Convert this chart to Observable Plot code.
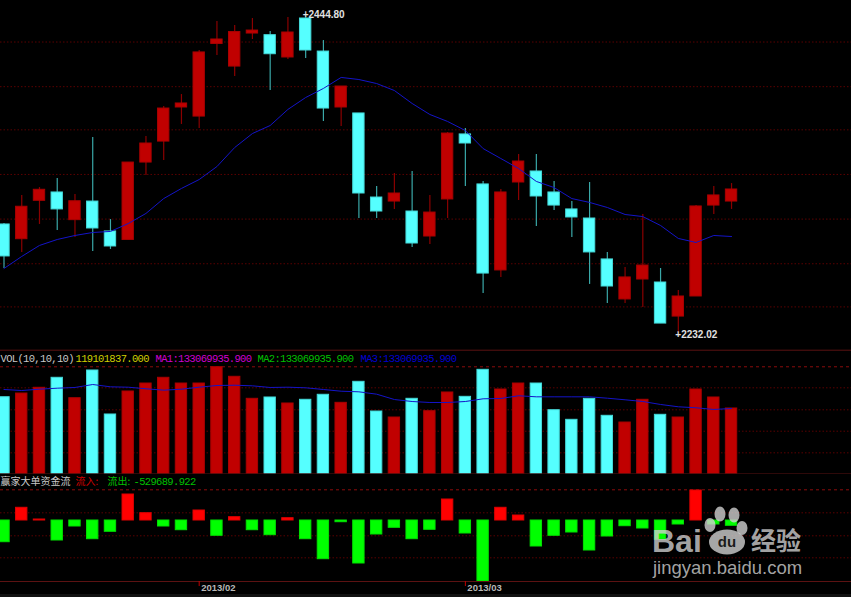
<!DOCTYPE html>
<html><head><meta charset="utf-8">
<script src="https://cdn.jsdelivr.net/npm/d3@7"></script>
<script src="https://cdn.jsdelivr.net/npm/@observablehq/plot@0.6"></script>
<style>
html,body{margin:0;padding:0;background:#000;width:851px;height:597px;overflow:hidden}
#wrap{position:relative;width:851px;height:597px}
svg{display:block}
#wm{position:absolute;left:0;top:0;pointer-events:none}
#strip{position:absolute;left:0;top:594px;width:851px;height:3px;background:#121212}
</style></head><body><div id="wrap"></div>
<script>
const priceOpen=[2305.4,2295.5,2321.3,2326.9,2308.3,2320.8,2300.7,2295.0,2347.0,2361.1,2384.0,2377.9,2426.7,2411.5,2433.7,2432.6,2417.6,2443.8,2421.6,2384.0,2380.0,2323.5,2320.8,2314.1,2297.3,2322.2,2365.9,2332.3,2274.5,2333.6,2341.0,2326.9,2315.5,2309.4,2281.9,2255.0,2268.4,2266.4,2243.5,2257.0,2318.1,2320.8];
const priceClose=[2283.9,2317.3,2328.7,2315.5,2321.0,2302.7,2290.6,2347.0,2359.8,2383.3,2386.7,2421.0,2429.7,2434.7,2435.7,2419.8,2434.4,2422.3,2383.3,2398.1,2326.2,2314.1,2326.2,2292.6,2313.4,2366.5,2359.8,2272.4,2326.9,2347.7,2324.2,2318.1,2310.1,2286.6,2263.7,2269.8,2277.8,2238.8,2257.0,2317.5,2324.9,2328.9];
const priceHigh=[2306.0,2324.9,2330.2,2336.3,2325.5,2363.8,2308.7,2347.0,2364.5,2384.7,2392.7,2422.3,2441.8,2439.1,2443.8,2435.1,2444.5,2444.8,2429.0,2398.1,2380.0,2330.9,2339.6,2341.0,2324.9,2367.2,2369.9,2334.3,2328.9,2352.4,2352.4,2334.3,2320.8,2333.6,2286.6,2276.5,2312.1,2275.8,2261.0,2318.2,2330.9,2332.9];
const priceLow=[2275.8,2286.6,2305.4,2301.3,2296.6,2287.2,2288.6,2295.0,2338.3,2348.4,2372.6,2369.9,2418.9,2404.8,2429.7,2395.4,2416.3,2416.9,2374.6,2371.2,2309.4,2309.4,2315.5,2289.9,2291.9,2309.4,2330.9,2259.0,2269.8,2321.5,2304.0,2314.8,2296.6,2265.1,2252.3,2252.3,2249.6,2238.8,2232.02,2257.0,2312.1,2315.5];
const priceMA=[2275.8,2283.9,2291.3,2295.3,2298.0,2300.0,2300.7,2306.0,2312.8,2322.8,2329.6,2335.6,2344.3,2357.1,2366.5,2371.9,2382.7,2390.7,2396.8,2404.2,2402.8,2400.1,2395.4,2386.7,2379.3,2374.6,2368.5,2356.4,2349.7,2343.0,2334.3,2330.2,2322.8,2320.2,2316.8,2312.1,2310.7,2304.7,2296.0,2293.3,2298.0,2297.3];
const volume=[139.6,146.3,156.7,174.9,137.8,188.2,108.2,150.0,164.5,174.9,164.5,164.5,194.2,176.7,136.7,139.1,128.2,134.9,144.0,129.4,167.6,113.6,102.7,136.7,114.2,148.2,140.3,189.4,153.6,164.5,164.5,116.0,98.5,136.7,105.8,93.6,134.9,107.6,102.7,153.6,139.1,119.1];
const volumeMA=[153.6,151.8,154.2,156.0,157.3,162.7,158.5,157.8,154.9,152.4,154.2,157.8,160.9,161.4,160.3,157.3,157.8,156.7,153.6,150.5,149.4,145.1,135.4,131.8,130.0,130.0,131.8,136.7,137.3,142.2,140.3,140.3,140.3,140.3,137.8,134.9,131.8,126.4,122.2,120.4,117.3,119.1];
const flow=[-217,127,10,-200,-60,-187,-113,260,73,-60,-97,100,-153,33,-97,-147,23,-187,-387,-17,-430,-140,-73,-187,-93,210,-130,-610,127,50,-260,-153,-120,-300,-160,-57,-80,-193,-40,300,-40,-53];
const priceGrid=[2428,2398,2369,2339,2309,2279,2250];
const volumeGrid=[156.7,116.7,77.8,38.5];
const volumeTop=[194.9];
const flowGrid=[77,-153,-373];
const flowTop=[307];
const monthIndex=[11,26];
const monthLabel=["2013/02","2013/03"];
const volHead=[["VOL(10,10,10)","#c8c8c8",0],["119101837.000","#d0d000",75],["MA1:133069935.900","#d000d0",155],["MA2:133069935.900","#00c000",257],["MA3:133069935.900","#0000d0",360]];
const flowHead=[["赢家大单资金流","#c8c8c8",0,10],["流入:","#d00000",75,10],["流出:","#00c000",107,10]];
const flowHeadValue=["-529689.922"];

const rows=priceOpen.map((o,i)=>({i,o,c:priceClose[i],h:priceHigh[i],l:priceLow[i],ma:priceMA[i],v:volume[i],vm:volumeMA[i],f:flow[i],up:priceClose[i]>o}));
const RED="#c00000",CYAN="#55ffff";
const xs={domain:[-0.197,47.76],range:[0,851],axis:null};
const half=0.32;
const base={width:851,margin:0,x:xs,style:{background:"#000"}};
const solid="#5c1212";
const MONO="'Liberation Mono',monospace";
const CJK="'Noto Sans CJK SC'";

const price=Plot.plot({...base,height:351,y:{domain:[2220.7,2455.9],range:[350,0],axis:null},marks:[
 Plot.ruleY(priceGrid,{stroke:"#5a0000",strokeDasharray:"1.5,2"}),
 Plot.ruleX(rows,{x:"i",y1:"l",y2:"h",stroke:d=>d.up?"#8a0000":"#3aa8a8",strokeWidth:1.2,clip:true}),
 Plot.rect(rows,{x1:d=>d.i-half,x2:d=>d.i+half,y1:"o",y2:"c",fill:d=>d.up?RED:CYAN,stroke:d=>d.up?"#a80000":"#44d8d8",strokeWidth:1,clip:true}),
 Plot.line(rows,{x:"i",y:"ma",stroke:"#1414c8",strokeWidth:1}),
 Plot.text(rows.filter(d=>d.h===d3.max(priceHigh)),{x:"i",y:"h",text:d=>"+"+d.h.toFixed(2),textAnchor:"start",dx:-3,dy:-2,fill:"#e0e0e0",fontSize:10,fontWeight:"bold",fontFamily:"'Liberation Sans'"}),
 Plot.text(rows.filter(d=>d.l===d3.min(priceLow)),{x:"i",y:"l",text:d=>"+"+d.l.toFixed(2),textAnchor:"start",dx:-3,dy:1,fill:"#e0e0e0",fontSize:10,fontWeight:"bold",fontFamily:"'Liberation Sans'"}),
 Plot.ruleY([2220.9],{stroke:solid,strokeWidth:1})
]});

const headOpts=(dx,fill,font,size)=>({frameAnchor:"top-left",dx,dy:7,lineAnchor:"middle",textAnchor:"start",fill,fontFamily:font,fontSize:size});
const volPlot=Plot.plot({...base,height:123,marginBottom:0.5,y:{domain:[0,222.7],axis:null},marks:[
 Plot.ruleY(volumeGrid,{stroke:"#5a0000",strokeDasharray:"1.5,2"}),
 Plot.ruleY(volumeTop,{stroke:"#8a0c0c",strokeDasharray:"3,3"}),
 Plot.rect(rows,{x1:d=>d.i-half,x2:d=>d.i+half,y1:0,y2:"v",fill:d=>d.up?RED:CYAN,stroke:d=>d.up?"#a80000":"#44d8d8",strokeWidth:1,clip:true}),
 Plot.line(rows,{x:"i",y:"vm",stroke:"#1414c8",strokeWidth:1}),
 Plot.ruleY([0],{stroke:solid,strokeWidth:1}),
 ...volHead.map(h=>Plot.text([h[0]],headOpts(h[2],h[1],MONO,10.5)))
]});

const flowPlot=Plot.plot({...base,height:124,y:{domain:[-780,460],axis:null},marks:[
 Plot.ruleY(flowGrid,{stroke:"#5a0000",strokeDasharray:"1.5,2"}),
 Plot.ruleY(flowTop,{stroke:"#8a0c0c",strokeDasharray:"3,3"}),
 Plot.rect(rows,{x1:d=>d.i-half,x2:d=>d.i+half,y1:0,y2:"f",fill:d=>d.f>0?"#ff0000":"#00ff00",stroke:d=>d.f>0?"#e00000":"#00e000",strokeWidth:1,clip:true}),
 Plot.ruleY([-610],{stroke:solid,strokeWidth:1}),
 Plot.ruleX(monthIndex,{x:d=>d,y1:-610,y2:-660,stroke:"#c00000"}),
 Plot.text(monthIndex,{x:d=>d,y:-670,text:(d,i)=>monthLabel[i],textAnchor:"start",dx:2,fill:"#b8b8b8",fontSize:9.5,fontWeight:"bold",fontFamily:"'Liberation Sans'"}),
 ...flowHead.map(h=>Plot.text([h[0]],headOpts(h[2],h[1],CJK,h[3]))),
 Plot.text(flowHeadValue,headOpts(133,"#00c000",MONO,10.5))
]});

const wrap=document.getElementById("wrap");
wrap.append(price,volPlot,flowPlot);
d3.select(wrap).selectAll("text").filter(function(){return /^(VOL|MA\d|\d{9}|-\d{6})/.test(this.textContent)}).style("letter-spacing","-0.66px");

const strip=document.createElement("div");strip.id="strip";wrap.append(strip);

// Baidu watermark overlay
const ns="http://www.w3.org/2000/svg";
const wm=document.createElementNS(ns,"svg");
wm.setAttribute("id","wm");wm.setAttribute("width",851);wm.setAttribute("height",597);
wm.innerHTML=`<g fill="#d0d0d0" fill-opacity="0.8">
<text x="652" y="552" font-family="Liberation Sans" font-weight="bold" font-size="32">Bai</text>
<ellipse cx="720" cy="514" rx="5.5" ry="7.5"/><ellipse cx="734" cy="515" rx="5.5" ry="7.5"/>
<ellipse cx="710" cy="525" rx="5.5" ry="7"/><ellipse cx="742" cy="528" rx="5.5" ry="7"/>
<ellipse cx="727" cy="542" rx="18" ry="12.5"/>
<text x="751" y="550" font-family="'Noto Sans CJK SC'" font-weight="bold" font-size="25">经验</text>
<text x="653" y="574" font-family="Liberation Sans" font-size="18.5">jingyan.baidu.com</text>
</g><text x="727" y="547" text-anchor="middle" font-family="Liberation Sans" font-weight="bold" font-size="15" fill="#000" fill-opacity="0.85">du</text>`;
wrap.append(wm);
</script></body></html>
